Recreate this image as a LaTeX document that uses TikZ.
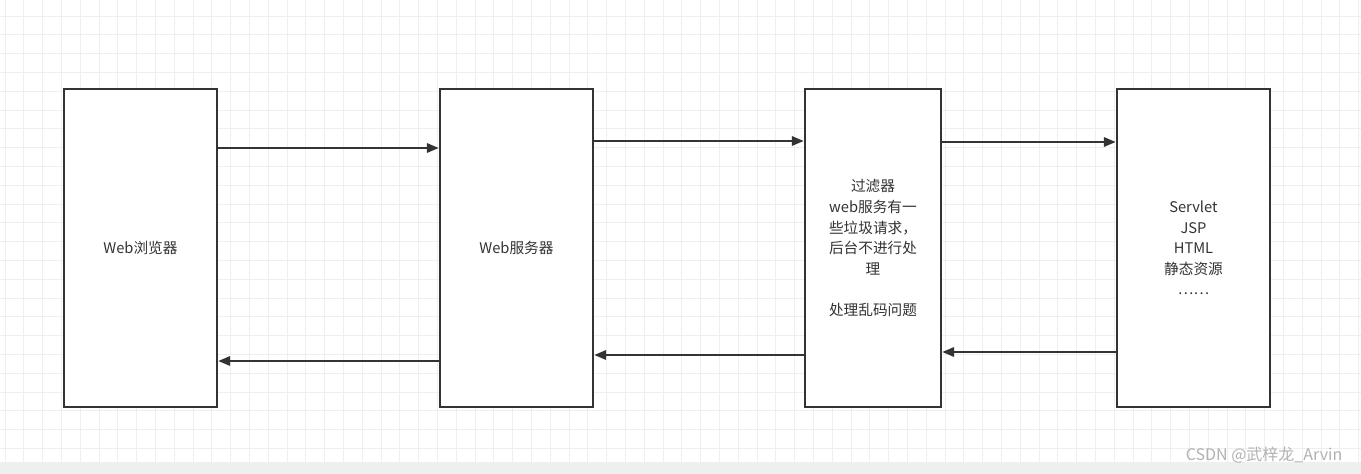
\documentclass[tikz,border=0pt]{standalone}
\usepackage{fontspec}
\setmainfont{Noto Sans CJK SC}
\usetikzlibrary{arrows.meta}
\definecolor{ink}{HTML}{333333}
\definecolor{gridc}{HTML}{EFEFEF}
\begin{document}
\begin{tikzpicture}[x=0.75pt,y=-0.75pt,
  box/.style={draw=ink,line width=1.8pt,fill=white,inner sep=0},
  lbl/.style={text=ink,font=\fontsize{11}{15.4}\selectfont,align=center},
  conn/.style={draw=ink,line width=1.8pt,-{Triangle[length=9pt,width=7pt]}}]
\useasboundingbox (0,0) rectangle (1361,474);
\fill[white] (0,0) rectangle (1361,462);
\foreach \i in {0,...,72} {\draw[gridc,line width=0.6pt] (5+18.8*\i,0) -- (5+18.8*\i,462);}
\foreach \i in {0,...,24} {\draw[gridc,line width=0.6pt] (0,16+18.8*\i) -- (1361,16+18.8*\i);}
\fill[gridc] (0,462) rectangle (1361,474);
\node[box,minimum width=153*0.75pt,minimum height=318*0.75pt] (a) at (140.5,248) {};
\node[box,minimum width=153*0.75pt,minimum height=318*0.75pt] (b) at (516.5,248) {};
\node[box,minimum width=136*0.75pt,minimum height=318*0.75pt] (c) at (873,248) {};
\node[box,minimum width=153*0.75pt,minimum height=318*0.75pt] (d) at (1193.5,248) {};
\node[lbl] (ta) at (a) {Web浏览器};
\node[lbl] (tb) at (b) {Web服务器};
\node[lbl] (tc) at (873,248) {过滤器\\web服务有一\\些垃圾请求，\\后台不进行处\\理\\ \\处理乱码问题};
\node[lbl] (td) at (1193.5,248) {Servlet\\JSP\\HTML\\静态资源\\……};
\draw[conn] (a.east |- 0,148) -- (b.west |- 0,148);
\draw[conn] (b.east |- 0,141) -- (c.west |- 0,141);
\draw[conn] (c.east |- 0,142) -- (d.west |- 0,142);
\draw[conn] (d.west |- 0,352) -- (c.east |- 0,352);
\draw[conn] (c.west |- 0,355) -- (b.east |- 0,355);
\draw[conn] (b.west |- 0,361) -- (a.east |- 0,361);
\node[text=gray!60,font=\fontsize{12}{14}\selectfont,anchor=east] (wm) at (1347,455) {CSDN @武梓龙\_Arvin};
\end{tikzpicture}
\end{document}
